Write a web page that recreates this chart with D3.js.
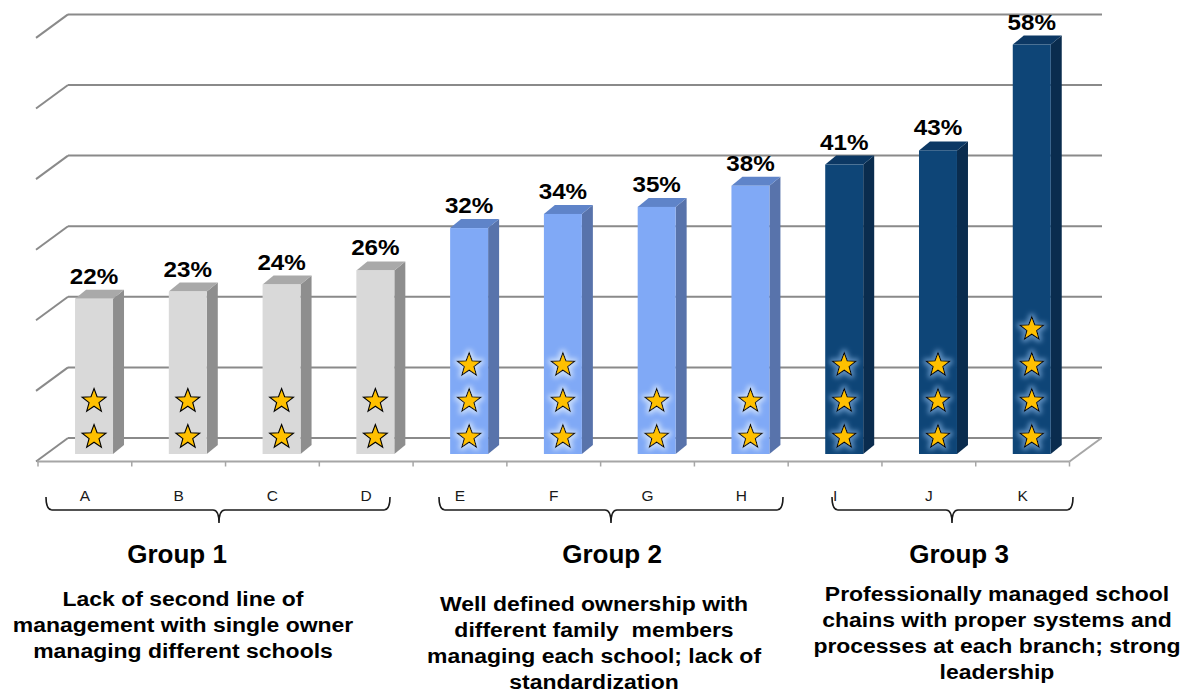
<!DOCTYPE html>
<html>
<head>
<meta charset="utf-8">
<script src="https://cdn.jsdelivr.net/npm/d3@7"></script>
<style>
  html, body { margin: 0; padding: 0; background: #ffffff; }
  svg { display: block; font-family: "Liberation Sans", Arial, sans-serif; }
</style>
</head>
<body>
<svg id="chart" width="1190" height="698"></svg>
<script>
// ---- data ----
const categories = ["A", "B", "C", "D", "E", "F", "G", "H", "I", "J", "K"];
const values     = [22, 23, 24, 26, 32, 34, 35, 38, 41, 43, 58];
const starCounts = [2, 2, 2, 2, 3, 3, 2, 2, 3, 3, 4];
const groupOf    = [0, 0, 0, 0, 1, 1, 1, 1, 2, 2, 2];
const yTickValues = [0, 10, 20, 30, 40, 50, 60];

const groupTitles = ["Group 1", "Group 2", "Group 3"];
const groupDescriptions = [
  ["Lack of second line of", "management with single owner", "managing different schools"],
  ["Well defined ownership with", "different family  members", "managing each school; lack of", "standardization"],
  ["Professionally managed school", "chains with proper systems and", "processes at each branch; strong", "leadership"]
];

// ---- styling / layout ----
const palette = [
  { front: "#d9d9d9", side: "#8e8e8e", top: "#a9a9a9", glow: null },
  { front: "#80a9f6", side: "#5873ab", top: "#5f84c9", glow: "#d6e6fb" },
  { front: "#0e4577", side: "#0a2c4e", top: "#0c3864", glow: "#6d9ccc" }
];
// brace extents and text anchors for each group
const groupLayout = [
  { braceL: 46,  braceR: 390,  tip: 219, titleX: 177, descX: 183, descY: 606 },
  { braceL: 439, braceR: 783,  tip: 611, titleX: 612, descX: 594, descY: 611 },
  { braceL: 832, braceR: 1073, tip: 952, titleX: 959, descX: 997, descY: 601 }
];

const svg = d3.select("#chart");
const defs = svg.append("defs");

// glow behind stars on the blue columns
palette.forEach((p, i) => {
  if (!p.glow) return;
  const f = defs.append("filter").attr("id", "glow" + i)
    .attr("x", "-60%").attr("y", "-60%").attr("width", "220%").attr("height", "220%");
  f.append("feMorphology").attr("in", "SourceAlpha").attr("operator", "dilate").attr("radius", 2).attr("result", "d");
  f.append("feGaussianBlur").attr("in", "d").attr("stdDeviation", 2.5).attr("result", "b");
  f.append("feFlood").attr("flood-color", p.glow).attr("flood-opacity", 0.85);
  f.append("feComposite").attr("in2", "b").attr("operator", "in").attr("result", "g");
  const m = f.append("feMerge");
  m.append("feMergeNode").attr("in", "g");
  m.append("feMergeNode").attr("in", "SourceGraphic");
});

// ---- scales ----
const x = d3.scaleBand().domain(categories).range([38, 1069.5]).paddingInner(0).paddingOuter(0);
const y = d3.scaleLinear().domain([0, 60]).range([454, 454 - 60 * 7.06]);
const bw = x.bandwidth();

// 3-D projection offsets
const wall = { dx: 32, dy: -16 };        // back wall relative to the column front plane
const floorFrontY = 461.5;
const depth = { dx: 11, dy: -9 };       // column depth
const colInset = bw * 0.395, colW = bw * 0.405;

// ---- back wall grid lines with their left floor diagonals ----
const grid = svg.append("g").attr("class", "grid");
yTickValues.forEach(v => {
  const gy = y(v) + wall.dy;
  grid.append("line")
    .attr("x1", 36 + wall.dx).attr("x2", 1102).attr("y1", gy).attr("y2", gy)
    .attr("stroke", "#8a8a8a").attr("stroke-width", 2);
  grid.append("line")
    .attr("x1", 36).attr("y1", gy + (floorFrontY - (y(0) + wall.dy)))
    .attr("x2", 36 + wall.dx).attr("y2", gy)
    .attr("stroke", "#8a8a8a").attr("stroke-width", 2);
});

// floor front edge, right edge and category ticks
const floorG = svg.append("g").attr("class", "floor");
floorG.append("line").attr("x1", 37).attr("x2", x.range()[1]).attr("y1", floorFrontY).attr("y2", floorFrontY)
  .attr("stroke", "#a6a6a6").attr("stroke-width", 2);
floorG.append("line").attr("x1", x.range()[1]).attr("y1", floorFrontY)
  .attr("x2", x.range()[1] + wall.dx).attr("y2", y(0) + wall.dy)
  .attr("stroke", "#a6a6a6").attr("stroke-width", 2);
floorG.selectAll("line.tick").data(categories.concat(["_end"])).join("line")
  .attr("class", "tick")
  .attr("x1", (d, i) => x.range()[0] + i * bw).attr("x2", (d, i) => x.range()[0] + i * bw)
  .attr("y1", floorFrontY).attr("y2", floorFrontY + 5)
  .attr("stroke", "#a6a6a6").attr("stroke-width", 1.5);

// ---- columns ----
const rows = categories.map((c, i) => ({ c, v: values[i], n: starCounts[i], g: groupOf[i] }));
const cols = svg.append("g").attr("class", "columns").selectAll("g").data(rows).join("g");

cols.each(function (d) {
  const g = d3.select(this);
  const p = palette[d.g];
  const x0 = x(d.c) + colInset, x1 = x0 + colW;
  const yt = y(d.v), yb = y(0);
  // side face
  g.append("path")
    .attr("d", `M${x1},${yb}L${x1 + depth.dx},${yb + depth.dy}L${x1 + depth.dx},${yt + depth.dy}L${x1},${yt}Z`)
    .attr("fill", p.side);
  // top face
  g.append("path")
    .attr("d", `M${x0},${yt}L${x0 + depth.dx},${yt + depth.dy}L${x1 + depth.dx},${yt + depth.dy}L${x1},${yt}Z`)
    .attr("fill", p.top);
  // front face
  g.append("rect").attr("x", x0).attr("y", yt).attr("width", colW).attr("height", yb - yt)
    .attr("fill", p.front);
});

// ---- stars inside the columns ----
function starPath(cx, cy, R, r) {
  const pts = [];
  for (let k = 0; k < 10; k++) {
    const a = -Math.PI / 2 + k * Math.PI / 5;
    const rad = k % 2 === 0 ? R : r;
    pts.push([cx + rad * Math.cos(a), cy + rad * Math.sin(a)]);
  }
  return "M" + pts.map(p => p.join(",")).join("L") + "Z";
}
cols.each(function (d) {
  const g = d3.select(this);
  const cx = x(d.c) + colInset + colW / 2;
  const sg = g.append("g");
  if (palette[d.g].glow) sg.attr("filter", `url(#glow${d.g})`);
  d3.range(d.n).forEach(k => {
    sg.append("path")
      .attr("d", starPath(cx, 437 - k * 36, 12.5, 5.2))
      .attr("fill", "#ffc000").attr("stroke", "#000").attr("stroke-width", 1.1)
      .attr("stroke-linejoin", "miter");
  });
});

// ---- value labels ----
cols.append("text")
  .attr("transform", d => `translate(${x(d.c) + colInset + colW / 2},${y(d.v) + depth.dy - 6}) scale(1.1,1)`)
  .attr("text-anchor", "middle")
  .attr("font-size", 22).attr("font-weight", "bold").attr("fill", "#000")
  .text(d => d.v + "%");

// ---- category labels ----
svg.append("g").selectAll("text").data(categories).join("text")
  .attr("x", d => x(d) + bw / 2).attr("y", 501)
  .attr("text-anchor", "middle").attr("font-size", 15.5).attr("fill", "#1a1a1a")
  .text(d => d);

// ---- group braces ----
function bracePath(l, r, m) {
  const yT = 497, yL = 510, yTip = 523, c = 6;
  return `M${l},${yT}Q${l},${yL} ${l + c},${yL}L${m - c},${yL}Q${m},${yL} ${m},${yTip}` +
         `Q${m},${yL} ${m + c},${yL}L${r - c},${yL}Q${r},${yL} ${r},${yT}`;
}
svg.append("g").selectAll("path").data(groupLayout).join("path")
  .attr("d", d => bracePath(d.braceL, d.braceR, d.tip))
  .attr("fill", "none").attr("stroke", "#1a1a1a").attr("stroke-width", 1.6);

// ---- group titles and descriptions ----
const gtext = svg.append("g");
groupTitles.forEach((t, i) => {
  gtext.append("text")
    .attr("transform", `translate(${groupLayout[i].titleX},563)`)
    .attr("text-anchor", "middle").attr("font-size", 26).attr("font-weight", "bold").attr("fill", "#000")
    .text(t);
  groupDescriptions[i].forEach((line, j) => {
    gtext.append("text")
      .attr("transform", `translate(${groupLayout[i].descX},${groupLayout[i].descY + j * 26}) scale(1.12,1)`)
      .attr("text-anchor", "middle").attr("font-size", 20.5).attr("font-weight", "bold").attr("fill", "#000")
      .attr("xml:space", "preserve").style("white-space", "pre")
      .text(line);
  });
});
</script>
</body>
</html>
